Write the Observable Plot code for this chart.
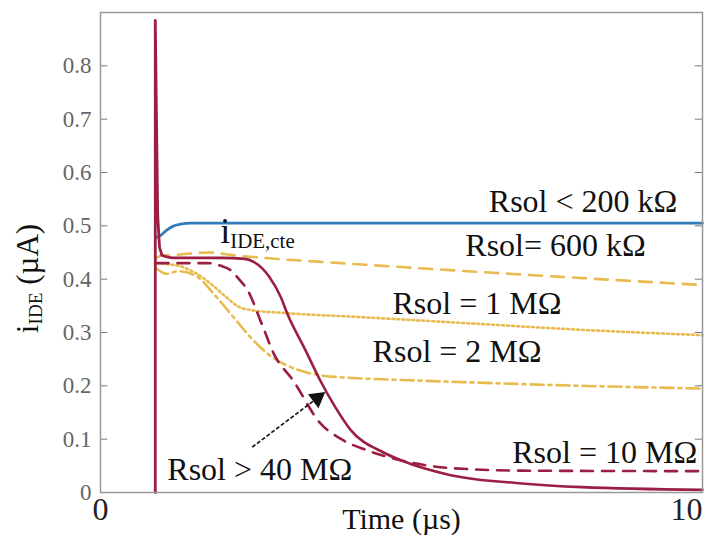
<!DOCTYPE html>
<html><head><meta charset="utf-8">
<script src="https://cdn.jsdelivr.net/npm/d3@7"></script>
<script src="https://cdn.jsdelivr.net/npm/@observablehq/plot@0.6"></script>
<style>
body{margin:0;background:#fff}
svg{display:block}
#chart svg text{font-family:"Liberation Serif","Times New Roman",serif !important}
</style>
</head><body><div id="chart"></div>
<script>
// ---- tick labels ----
const yTicks = [0, 0.1, 0.2, 0.3, 0.4, 0.5, 0.6, 0.7, 0.8];
const yTickLabels = ["0", "0.1", "0.2", "0.3", "0.4", "0.5", "0.6", "0.7", "0.8"];
const xTicks = [0, 10];
const xTickLabels = ["0", "10"];

// ---- series (time in µs, current in µA) ----
const tBlue = [0.93, 1.0, 1.1, 1.2, 1.33, 1.5, 1.8, 2.5, 4, 6, 8, 10];
const iBlue = [0.478, 0.482, 0.492, 0.499, 0.503, 0.505, 0.505, 0.505, 0.505, 0.505, 0.505, 0.505];

const t600k = [0.93, 1.0, 1.2, 1.5, 1.8, 2.2, 2.7, 4, 5.8, 8, 10];
const i600k = [0.44, 0.444, 0.445, 0.448, 0.45, 0.445, 0.44, 0.43, 0.417, 0.402, 0.389];

const t1M = [0.93, 1.1, 1.3, 1.6, 1.9, 2.1, 2.3, 2.5, 3, 4.3, 6, 8, 10];
const i1M = [0.43, 0.428, 0.425, 0.41, 0.385, 0.365, 0.348, 0.342, 0.337, 0.329, 0.318, 0.305, 0.295];

const t2M = [0.93, 1.1, 1.3, 1.6, 1.9, 2.2, 2.5, 2.8, 3.1, 3.4, 3.7, 4.0, 4.5, 5, 6, 8, 10];
const i2M = [0.42, 0.41, 0.415, 0.405, 0.37, 0.33, 0.29, 0.258, 0.238, 0.226, 0.219, 0.216, 0.213, 0.211, 0.207, 0.2, 0.195];

const t10M = [0.93, 1.0, 1.2, 1.5, 1.78, 2.0, 2.16, 2.3, 2.44, 2.7, 2.88, 3.2, 3.65, 4.0, 4.43, 5.0, 5.8, 7, 10];
const i10M = [0.43, 0.43, 0.43, 0.43, 0.43, 0.425, 0.417, 0.4, 0.38, 0.31, 0.26, 0.21, 0.13, 0.1, 0.079, 0.06, 0.046, 0.041, 0.04];

// spike of the Rsol > 40 MΩ response, then its decay
const tSpike = [0.91, 0.91, 0.93, 0.95, 0.98, 1.02];
const iSpike = [0, 0.885, 0.7, 0.52, 0.46, 0.445];
const t40M = [1.02, 1.2, 2.0, 2.4, 2.55, 2.8, 3.0, 3.1, 3.4, 3.65, 3.9, 4.15, 4.7, 5.0, 5.8, 7, 8, 10];
const i40M = [0.445, 0.44, 0.44, 0.438, 0.432, 0.405, 0.365, 0.336, 0.268, 0.21, 0.16, 0.118, 0.075, 0.06, 0.033, 0.017, 0.01, 0.005];

// ---- annotations ----
const annoText = ["Rsol < 200 kΩ", "Rsol= 600 kΩ", "Rsol = 1 MΩ", "Rsol = 2 MΩ", "Rsol = 10 MΩ", "Rsol > 40 MΩ"];
const annoT = [6.45, 6.06, 4.85, 4.52, 6.84, 1.11];
const annoI = [0.526, 0.443, 0.334, 0.244, 0.056, 0.024];
const cteT = [1.99];
const cteI = [0.468];
const arrowFrom = [2.52, 0.085];
const arrowTo = [3.6, 0.177];

const BLUE = "#2f7dbb", YEL = "#e8bb4f", RED = "#9b1f42";
const zip = (t, v) => t.map((d, i) => ({t: d, v: v[i]}));
const serif = "Liberation Serif";

const chart = Plot.plot({
  width: 708, height: 537,
  marginLeft: 100, marginRight: 6, marginTop: 12, marginBottom: 45,
  style: {fontFamily: serif, background: "#fff"},
  x: {domain: [0, 10], axis: null},
  y: {domain: [0, 0.9], axis: null},
  marks: [
    Plot.ruleY(yTicks, {x1: 0, x2: 0.12, stroke: "#777", strokeWidth: 1}),
    Plot.ruleY(yTicks, {x1: 9.88, x2: 10, stroke: "#777", strokeWidth: 1}),
    Plot.axisY({ticks: yTicks, tickFormat: (d, i) => yTickLabels[i], tickSize: 0, tickPadding: 9, fontSize: 23, color: "#666", label: null}),
    Plot.axisX({ticks: [xTicks[0]], tickFormat: () => xTickLabels[0], tickSize: 0, tickPadding: 5, fontSize: 32, color: "#222", label: null}),
    Plot.axisX({ticks: [xTicks[1]], tickFormat: () => xTickLabels[1], tickSize: 0, tickPadding: 5, fontSize: 32, color: "#222", textAnchor: "end", label: null}),
    Plot.line(zip(t600k, i600k), {x: "t", y: "v", stroke: YEL, strokeWidth: 2.6, strokeDasharray: "13,9", curve: "monotone-x"}),
    Plot.line(zip(t1M, i1M), {x: "t", y: "v", stroke: YEL, strokeWidth: 2.6, strokeDasharray: "2,3", curve: "monotone-x"}),
    Plot.line(zip(t2M, i2M), {x: "t", y: "v", stroke: YEL, strokeWidth: 2.6, strokeDasharray: "13,5,3,5", curve: "monotone-x"}),
    Plot.line(zip(tBlue, iBlue), {x: "t", y: "v", stroke: BLUE, strokeWidth: 2.8, curve: "monotone-x"}),
    Plot.line(zip(t10M, i10M), {x: "t", y: "v", stroke: RED, strokeWidth: 2.6, strokeDasharray: "12,9", curve: "monotone-x"}),
    Plot.line(zip(tSpike, iSpike), {x: "t", y: "v", stroke: RED, strokeWidth: 2.8}),
    Plot.line(zip(t40M, i40M), {x: "t", y: "v", stroke: RED, strokeWidth: 2.6, curve: "monotone-x"}),
    Plot.link([0], {x1: () => arrowFrom[0], y1: () => arrowFrom[1], x2: () => arrowTo[0], y2: () => arrowTo[1], stroke: "#111", strokeWidth: 1.6, strokeDasharray: "4,2"}),
    Plot.dot([0], {x: () => arrowTo[0], y: () => arrowTo[1], symbol: "triangle", r: 6.5, fill: "#111", stroke: "none", rotate: 53}),
    Plot.text(annoText, {x: (d, i) => annoT[i], y: (d, i) => annoI[i], text: d => d, textAnchor: "start", lineAnchor: "bottom", fontSize: 32, fill: "#111"}),
    Plot.text(["iIDE,cte"], {x: (d, i) => cteT[i], y: (d, i) => cteI[i], text: d => d, textAnchor: "start", lineAnchor: "bottom", fontSize: 36, fill: "#111", className: "cte-lbl"}),
    Plot.text(["Time (µs)"], {frameAnchor: "bottom", dy: 36, lineAnchor: "bottom", fontSize: 30, fill: "#111"}),
    Plot.text(["iIDE (µA)"], {frameAnchor: "left", dx: -72, dy: 26, rotate: -90, textAnchor: "middle", lineAnchor: "middle", fontSize: 31, fill: "#111", className: "ylab"}),
    Plot.frame({stroke: "#999", strokeWidth: 1.5})
  ]
});
document.getElementById("chart").appendChild(chart);

// subscripts as real text tspans
function sub(sel, main, subTxt, rest, subSize, shift) {
  d3.select(chart).selectAll(sel).each(function () {
    const t = d3.select(this);
    t.text(null);
    t.append("tspan").text(main);
    t.append("tspan").attr("font-size", subSize).attr("dy", shift).text(subTxt);
    if (rest) t.append("tspan").attr("dy", -shift).text(rest);
  });
}
sub(".cte-lbl text", "i", "IDE,cte", null, "0.58em", 5);
sub(".ylab text", "i", "IDE", " (µA)", "0.62em", 4);
</script>
</body></html>
